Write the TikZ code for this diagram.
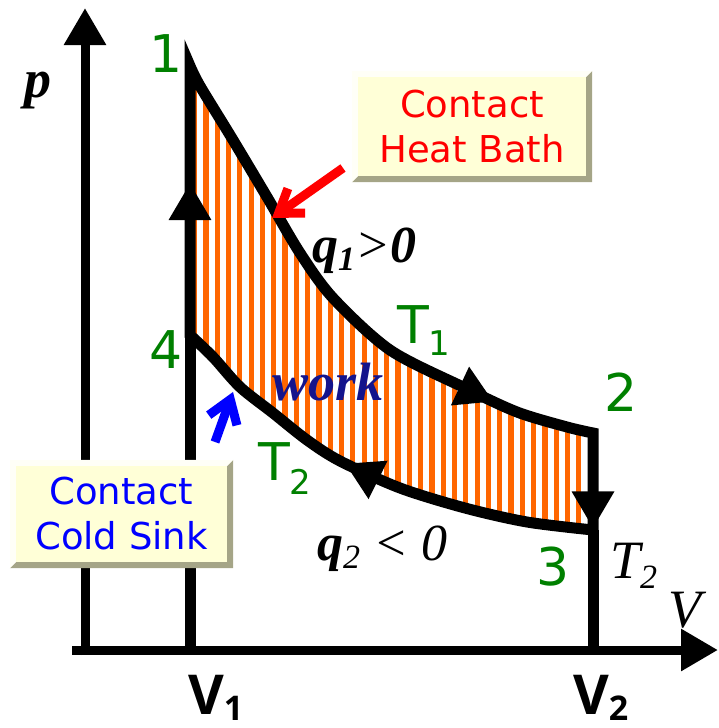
\documentclass[tikz,border=0pt]{standalone}
\usepackage{fontspec}
\usetikzlibrary{arrows.meta,decorations.markings}

\newfontfamily\verd{DejaVu Sans}
\newfontfamily\tms{Liberation Serif}
\newfontfamily\vsans{Open Sans}

\definecolor{hatch}{RGB}{255,102,0}
\definecolor{ptgreen}{RGB}{0,128,0}
\definecolor{workblue}{RGB}{20,20,140}
\definecolor{panel}{RGB}{255,255,215}
\definecolor{paneldark}{RGB}{165,165,135}

% raised bevel round a panel node
\newcommand\panelbevel[1]{%
  \fill[paneldark] (#1.north east) -- (#1.south east) -- (#1.south west)
    -- ([shift={(6,-6)}]#1.south west) -- ([shift={(-6,-6)}]#1.south east)
    -- ([shift={(-6,6)}]#1.north east) -- cycle;
  \fill[white, opacity=0.8] (#1.north west) -- (#1.north east)
    -- ([shift={(-6,6)}]#1.north east) -- ([shift={(6,6)}]#1.north west)
    -- ([shift={(6,-6)}]#1.south west) -- (#1.south west) -- cycle;}
\newcommand\sub[2]{\raisebox{#1}{\fontsize{34}{34}\selectfont #2}}

\begin{document}
\begin{tikzpicture}[x=1pt, y=-1pt, >={Triangle[length=37pt,width=40pt]},
	axis/.style={line width=9pt, ->},
	cyc/.style={line width=11pt},
	pointer/.style={line width=9pt, -{Straight Barb[length=22pt,width=30pt]}},
	stage/.style={text=ptgreen, font=\verd\fontsize{52}{52}\selectfont, inner sep=0pt},
	panelbox/.style={fill=panel, align=center, inner sep=0pt, font=\verd\fontsize{37}{45}\selectfont},
	serif/.style={inner sep=0pt, anchor=base west, font=\tms\itshape\fontsize{54}{54}\selectfont}]
	\useasboundingbox (0,0) rectangle (718,728);

	% axes
	\coordinate (pbot) at (85,655);
	\coordinate (ptip) at (85,8);
	\coordinate (vbot) at (72,650);
	\coordinate (vtip) at (718,650);
	\draw[axis] (pbot) -- (ptip);
	\draw[axis] (vbot) -- (vtip);

	% states of the cycle
	\coordinate (p1) at (190,66);
	\coordinate (p2) at (593,433);
	\coordinate (p3) at (593,530);
	\coordinate (p4) at (190,335);
	\coordinate (v1) at (190,650);
	\coordinate (v2) at (593,650);
	\draw[cyc] (v1) -- (p4);
	\draw[cyc] (p3) -- (v2);

	\draw[cyc, path picture={
			\foreach \x in {192,203.3,...,600} {\fill[hatch] (\x,40) rectangle ++(5.2,520);}
		}, postaction={decorate, decoration={markings,
			mark=at position 152pt with {\arrow{>}},
			mark=at position 735pt with {\arrow{>}},
			mark=at position 935pt with {\arrow{>}},
			mark=at position 1195pt with {\arrow{>}}}}]
		(p4) -- (p1)
		-- plot[smooth, tension=0.5] coordinates {(190,66) (200,86) (233,140) (267,197) (300,253) (333,298) (390,350) (463,387) (517,412) (567,427) (593,433)}
		-- (p3)
		-- plot[smooth, tension=0.5] coordinates {(593,530) (527,522) (465,508) (400,488) (340,461) (307,440) (273,413) (240,387) (213,357) (190,335)}
		-- cycle;

	% labels
	\node[inner sep=0pt, font=\tms\bfseries\itshape\fontsize{54}{54}\selectfont] (plabel) at (38,91) {p};
	\node[serif] (vlabel) at (668,627) {V};
	\node[stage] (s1) at (166,54) {1};
	\node[stage] (s2) at (621,392) {2};
	\node[stage] (s3) at (553,567) {3};
	\node[stage] (s4) at (166,350) {4};
	\node[stage, anchor=base west] (t1) at (397,343) {T\sub{-12pt}{1}};
	\node[stage, anchor=base west] (t2) at (258,480) {T\sub{-14pt}{2}};
	\node[serif, font=\tms\bfseries\itshape\fontsize{52}{52}\selectfont] (q1) at (312,262) {q\sub{-8pt}{1}{\mdseries >}0};
	\node[serif, font=\tms\itshape\fontsize{52}{52}\selectfont] (q2) at (317,560) {\textbf{q}\sub{-8pt}{2} < 0};
	\node[serif, text=workblue, font=\tms\bfseries\itshape\fontsize{54}{54}\selectfont] (work) at (272,400) {work};
	\node[serif] (t2r) at (610,578) {T\sub{-10pt}{2}};
	\node[inner sep=0pt, anchor=base west, font=\vsans\bfseries\fontsize{55}{55}\selectfont] (vv1) at (188,714) {V\sub{-6pt}{1}};
	\node[inner sep=0pt, anchor=base west, font=\vsans\bfseries\fontsize{55}{55}\selectfont] (vv2) at (573,714) {V\sub{-6pt}{2}};

	% heat bath and cold sink
	\node[panelbox, text=red, minimum width=240, minimum height=111] (heat) at (472,126.5) {Contact\\Heat Bath};
	\panelbevel{heat}
	\node[panelbox, text=blue, minimum width=223, minimum height=108] (cold) at (121.5,514) {Contact\\Cold Sink};
	\panelbevel{cold}

	\coordinate (redtail) at (343,168);
	\coordinate (redtip) at (272,218);
	\coordinate (bluetail) at (215,442);
	\coordinate (bluetip) at (233,392);
	\draw[pointer, red] (redtail) -- (redtip);
	\draw[pointer, blue] (bluetail) -- (bluetip);
\end{tikzpicture}
\end{document}
